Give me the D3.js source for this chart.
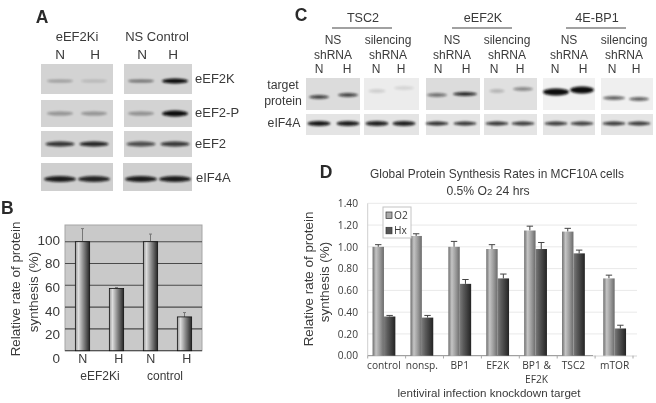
<!DOCTYPE html>
<html><head><meta charset="utf-8">
<script src="https://cdn.jsdelivr.net/npm/d3@7"></script>
<style>
html,body{margin:0;padding:0;background:#fff}
svg{display:block;filter:blur(.35px)}
text{font-family:"Liberation Sans",Arial,sans-serif;fill:#3a3a3a}
</style></head><body>
<svg id="c" width="656" height="403"></svg>
<script>
// ---------- data ----------
const bCategories = ["N","H","N ","H "];
const bValues = [100,57,100,31];
const bErrors = [12,1,7,4];
const bTicks = [0,20,40,60,80,100];
const bGroupLabels = ["eEF2Ki","control"];

const dCategories = ["control","nonsp.","BP1","EF2K","BP1 & EF2K","TSC2","mTOR"];
const dO2 = [1.00,1.10,1.00,0.98,1.15,1.14,0.71];
const dHx = [0.36,0.35,0.66,0.71,0.98,0.94,0.25];
const dO2Err = [0.02,0.02,0.05,0.04,0.04,0.03,0.03];
const dHxErr = [0.01,0.02,0.04,0.04,0.06,0.03,0.03];
const dTicks = [0,0.2,0.4,0.6,0.8,1.0,1.2,1.4];
const dSeries = ["O2","Hx"];

const aRows = ["eEF2K","eEF2-P","eEF2","eIF4A"];
const aIntensity = [[.28,.14,.5,1],[.32,.32,.34,1],[.8,.88,.68,.78],[.92,.88,.92,.92]];
const cTargets = ["TSC2","eEF2K","4E-BP1"];
const cTargetIntensity = [.72,.72,.13,.1,.5,.85,.2,.4,1,1,.6,.6];
const cLoadIntensity = [.95,.92,.9,.9,.85,.82,.82,.8,.8,.78,.8,.8];

// ---------- helpers ----------
const svg = d3.select("#c");
const defs = svg.append("defs");
function grad(id,stops){
  const g=defs.append("linearGradient").attr("id",id);
  stops.forEach(([o,c])=>g.append("stop").attr("offset",o).attr("stop-color",c));
}
grad("gB",[[0,"#9a9a9a"],[.22,"#dcdcdc"],[.55,"#8c8c8c"],[1,"#262626"]]);
grad("gO",[[0,"#6e6e6e"],[.3,"#c4c4c4"],[.65,"#9a9a9a"],[1,"#6a6a6a"]]);
grad("gH",[[0,"#7a7a7a"],[.3,"#5c5c5c"],[1,"#232323"]]);
defs.append("filter").attr("id","soft").attr("x","-30%").attr("y","-100%").attr("width","160%").attr("height","300%")
  .append("feGaussianBlur").attr("stdDeviation","1.1 .8");
function label(x,y,t,size,anchor,extra){
  const e=svg.append("text").attr("x",x).attr("y",y).attr("font-size",size).attr("text-anchor",anchor||"middle").text(t);
  if(extra) extra(e);
  return e;
}
const bold=e=>e.attr("font-weight","bold").style("fill","#2a2a2a");
const rot=(x,y,t,size)=>svg.append("text").attr("transform",`translate(${x},${y}) rotate(-90)`)
  .attr("text-anchor","middle").attr("font-size",size).text(t);
function band(g,cx,cy,w,ry,op){
  g.append("ellipse").attr("cx",cx).attr("cy",cy).attr("rx",w/2).attr("ry",ry)
   .attr("fill","#0c0c0c").attr("opacity",op).attr("filter","url(#soft)");
}

// ---------- panel A ----------
label(42,23,"A",17.5,"middle",bold);
label(77,41,"eEF2Ki",13); label(157,41,"NS Control",13);
[["N",60],["H",95],["N",142],["H",173]].forEach(([t,x])=>label(x,59,t,13.5));
const aLay=[
 {y:64,h:30,by:81,ry:1.6,ty:83,lx:195},
 {y:100,h:27,by:113.5,ry:2,ty:117,lx:195},
 {y:131,h:26,by:144,ry:2.6,ty:148,lx:195},
 {y:163,h:28,by:179,ry:3,ty:182,lx:196}];
aRows.forEach((name,i)=>{
  const l=aLay[i];
  const g=svg.append("g");
  g.append("rect").attr("x",41).attr("y",l.y).attr("width",72).attr("height",l.h).attr("fill",i==3?"#cfcfcf":"#d3d3d3");
  g.append("rect").attr("x",i==3?123:124).attr("y",l.y).attr("width",i==3?69:68).attr("height",l.h).attr("fill",i==3?"#cfcfcf":"#d3d3d3");
  [60,94,141,175].forEach((cx,j)=>{
    const w=i==3?32:(i==2?29:26);
    const big=aIntensity[i][j]>.95;
    band(g,cx,l.by,w,big?l.ry+1:l.ry,aIntensity[i][j]);
  });
  label(l.lx,l.ty,name,13,"start");
});

// ---------- panel B ----------
label(1,214,"B",17.5,"start",bold);
rot(20,289,"Relative rate of protein",13.4);
rot(38,292,"synthesis (%)",13.4);
const bX=d3.scaleBand().domain(bCategories).range([65.5,201.5]).paddingInner(.58).paddingOuter(.29);
const bY=d3.scaleLinear().domain([0,100]).range([350.7,241.7]);
svg.append("rect").attr("x",65).attr("y",225).attr("width",137).attr("height",125.7).attr("fill","#c9c9c9").attr("stroke","#a5a5a5");
svg.append("g").selectAll("line").data(bTicks.filter(d=>d>0&&d<=100)).join("line")
  .attr("x1",65).attr("x2",202).attr("y1",d=>bY(d)).attr("y2",d=>bY(d)).attr("stroke","#4a4a4a").attr("stroke-width",1.1);
svg.append("line").attr("x1",65).attr("x2",202).attr("y1",bY(0)).attr("y2",bY(0)).attr("stroke","#555").attr("stroke-width",1.2);
svg.append("g").selectAll("line").data(bValues).join("line")
  .attr("x1",(d,i)=>bX(bCategories[i])+bX.bandwidth()/2).attr("x2",(d,i)=>bX(bCategories[i])+bX.bandwidth()/2)
  .attr("y1",d=>bY(d)).attr("y2",(d,i)=>bY(d+bErrors[i])).attr("stroke","#777").attr("stroke-width",1);
svg.append("g").selectAll("line").data(bValues).join("line")
  .attr("x1",(d,i)=>bX(bCategories[i])+bX.bandwidth()/2-1.5).attr("x2",(d,i)=>bX(bCategories[i])+bX.bandwidth()/2+1.5)
  .attr("y1",(d,i)=>bY(d+bErrors[i])).attr("y2",(d,i)=>bY(d+bErrors[i])).attr("stroke","#777");
svg.append("g").selectAll("rect").data(bValues).join("rect")
  .attr("x",(d,i)=>bX(bCategories[i])).attr("width",bX.bandwidth())
  .attr("y",d=>bY(d)).attr("height",d=>bY(0)-bY(d))
  .attr("fill","url(#gB)").attr("stroke","#111").attr("stroke-width",.8);
// tick labels are hand-set in the figure on a wider pitch than the gridlines
const bLabelY=d3.scaleLinear().domain([0,100]).range([358,240]);
const bAx=svg.append("g").attr("transform","translate(60,0)").call(d3.axisLeft(bLabelY).tickValues(bTicks).tickSize(0).tickPadding(0));
bAx.select(".domain").remove();
bAx.selectAll("text").attr("font-size",13.5).style("font-family",'"Liberation Sans"');
const bLblX=d3.scaleOrdinal().domain(bCategories).range([82.7,118.7,150.7,186.7]);
svg.append("g").selectAll("text").data(bCategories).join("text")
  .attr("x",d=>bLblX(d)).attr("y",363).attr("text-anchor","middle").attr("font-size",12.5).text(d=>d.trim());
label(100,380,bGroupLabels[0],12); label(165,380,bGroupLabels[1],12);

// ---------- panel C ----------
label(301,21,"C",17.5,"middle",bold);
const cLeft=[[363,332,392],[483,452,512],[597,566,626]];
cTargets.forEach((t,i)=>{
  label(cLeft[i][0],22,t,12.6);
  svg.append("line").attr("x1",cLeft[i][1]).attr("x2",cLeft[i][2]).attr("y1",28).attr("y2",28).attr("stroke","#444").attr("stroke-width",1.1);
});
const cText=[[333,"NS",319,347],[388,"silencing",376,401],[452,"NS",438,466],[507,"silencing",494,520],[569,"NS",555,583],[624,"silencing",612,636]];
cText.forEach(([x,t,n,h])=>{
  label(x,44,t,12); label(x,59,"shRNA",12);
  label(n,73,"N",12); label(h,73,"H",12);
});
label(283,89,"target",12.3); label(283,105,"protein",12.3); label(284,127,"eIF4A",12.3);
const cPanels=[[306,54,"#dcdcdc"],[364,55,"#ececec"],[426,54,"#dcdcdc"],[484,53,"#e0e0e0"],[543,52,"#f1f1f1"],[601,52,"#efefef"]];
const cLane=[[319,348,20,20,97,95],[377,404,17,20,91,88],[437,465,20,24,95,94],[497,523,15,20,91,89],[556,582,26,24,92,90],[614,639,22,20,98,99]];
cPanels.forEach(([x,w,fill],p)=>{
  const g=svg.append("g");
  g.append("rect").attr("x",x).attr("y",78).attr("width",w).attr("height",32).attr("fill",fill);
  g.append("rect").attr("x",x).attr("y",114).attr("width",w).attr("height",21).attr("fill","#e4e4e4");
  const L=cLane[p];
  [0,1].forEach(k=>{
    const v=cTargetIntensity[p*2+k];
    band(g,L[k],L[4+k],L[2+k],v>.95?3.4:1.9,v);
    band(g,L[k],123.5,23,p<2?2.6:1.9,cLoadIntensity[p*2+k]);
  });
});

// ---------- panel D ----------
label(326,178,"D",17.5,"middle",bold);
label(497,178,"Global Protein Synthesis Rates in MCF10A cells",11.9);
svg.append("text").attr("x",488).attr("y",195).attr("text-anchor","middle").attr("font-size",12.2)
  .call(t=>{t.append("tspan").text("0.5% O");t.append("tspan").attr("font-size",9.5).text("2");t.append("tspan").text(" 24 hrs");});
rot(313,279,"Relative rate of protein",13.4);
rot(329,282,"synthesis (%)",13.4);
const dY=d3.scaleLinear().domain([0,1.4]).range([355.7,203.3]);
const dX=d3.scaleBand().domain(dCategories).range([365,630.3]).paddingInner(.5).paddingOuter(.25);
// last group sits slightly apart, across a break in the axis
const dGap=name=>name==="mTOR"?3.3:0;
const dCx=name=>dX(name)+dX.bandwidth()/2+dGap(name);
svg.append("g").selectAll("line").data(dTicks.slice(1)).join("line")
  .attr("x1",367.7).attr("x2",637).attr("y1",d=>dY(d)).attr("y2",d=>dY(d)).attr("stroke","#e9e9e9");
svg.append("line").attr("x1",367.7).attr("x2",367.7).attr("y1",203.3).attr("y2",355.7).attr("stroke","#cfcfcf");
svg.append("line").attr("x1",367.7).attr("x2",593).attr("y1",355.7).attr("y2",355.7).attr("stroke","#8a8a8a");
svg.append("line").attr("x1",593).attr("x2",637).attr("y1",356).attr("y2",356).attr("stroke","#d5d5d5");
svg.append("g").selectAll("line").data(d3.range(8)).join("line")
  .attr("x1",i=>367.7+i*37.9).attr("x2",i=>367.7+i*37.9)
  .attr("y1",355.7).attr("y2",358.5).attr("stroke","#aaa");
const barW=11.4;
dSeries.forEach((s,si)=>{
  const vals=si==0?dO2:dHx, errs=si==0?dO2Err:dHxErr, off=si==0?-barW:0;
  const g=svg.append("g");
  const top=(d,i)=>dY(d+errs[i]);
  const cx=(i)=>dCx(dCategories[i])+off+barW/2;
  g.selectAll(".v").data(vals).join("line").attr("x1",(d,i)=>cx(i)).attr("x2",(d,i)=>cx(i))
    .attr("y1",d=>dY(d)).attr("y2",top).attr("stroke","#444");
  g.selectAll(".c").data(vals).join("line").attr("x1",(d,i)=>cx(i)-3.2).attr("x2",(d,i)=>cx(i)+3.2)
    .attr("y1",top).attr("y2",top).attr("stroke","#444");
  g.selectAll("rect").data(vals).join("rect")
    .attr("x",(d,i)=>cx(i)-barW/2).attr("width",barW)
    .attr("y",d=>dY(d)).attr("height",d=>dY(0)-dY(d))
    .attr("fill",si==0?"url(#gO)":"url(#gH)");
});
const dAx=svg.append("g").attr("transform","translate(358,0)").call(d3.axisLeft(dY).tickValues(dTicks).tickFormat(d3.format(".2f")).tickSize(0).tickPadding(0));
dAx.select(".domain").remove();
dAx.selectAll("text").attr("font-size",10.2).style("font-family",'"Open Sans"');
const catText=svg.append("g").selectAll("text").data(dCategories).join("text")
  .attr("text-anchor","middle").attr("font-size",10.2).style("font-family",'"Open Sans"')
  .attr("y",369).attr("x",d=>dCx(d));
catText.each(function(d){
  const t=d3.select(this);
  if(d.includes(" & ")){
    const [a,b]=d.split(" & ");
    t.append("tspan").attr("x",dCx(d)+1).text(a+" &");
    t.append("tspan").attr("x",dCx(d)+1).attr("dy",14).text(b);
  } else t.text(d);
});
label(489,397,"lentiviral infection knockdown target",11.6);
// legend
svg.append("rect").attr("x",383).attr("y",207).attr("width",28).attr("height",31).attr("fill","#fff").attr("stroke","#c4c4c4");
dSeries.forEach((s,i)=>{
  svg.append("rect").attr("x",386).attr("y",212+i*15.3).attr("width",6).attr("height",6.5)
    .attr("fill",i?"#555":"#aaa").attr("stroke","#333").attr("stroke-width",.7);
  svg.append("text").attr("x",394).attr("y",219+i*15).attr("font-size",10.2).style("font-family",'"Open Sans"').text(s);
});
</script></body></html>
